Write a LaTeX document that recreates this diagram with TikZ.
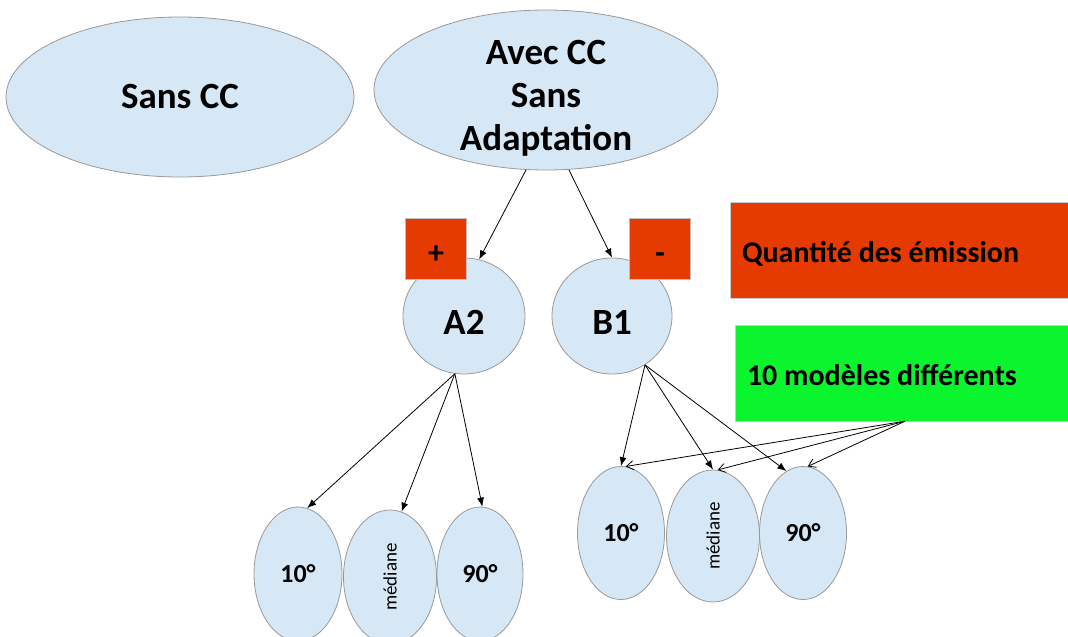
\documentclass[tikz,border=0pt]{standalone}
\usepackage{fontspec}
\setmainfont{Carlito}
\usetikzlibrary{shapes.geometric,arrows.meta}
\definecolor{fondbulle}{HTML}{D6E8F5}
\definecolor{rouge}{HTML}{E53B00}
\definecolor{vert}{HTML}{0AF52E}
\tikzset{
  bulle/.style={ellipse,draw=gray!80,fill=fondbulle,inner sep=0pt,line width=0.8pt},
  carre/.style={draw=gray!50,fill=rouge,minimum size=61pt,inner sep=0pt,text height=29pt,text depth=0pt,font=\bfseries\fontsize{32}{32}\selectfont},
  bandeau/.style={draw=gray!40,minimum height=96pt,inner xsep=12pt,align=flush left,text height=25pt,text depth=0pt,font=\bfseries\fontsize{30}{34}\selectfont},
  fleche/.style={-{Latex[length=9pt,width=7pt]},line width=0.8pt},
  renvoi/.style={-{Straight Barb[length=7pt,width=9pt]},line width=0.8pt}
}
\begin{document}
\begin{tikzpicture}[x=1pt,y=-1pt]
  \useasboundingbox (0,0) rectangle (1068,637);

  \node[bulle,minimum width=348pt,minimum height=160pt,font=\bfseries\fontsize{37}{43}\selectfont] (sans) at (180,97) {Sans CC};
  \node[bulle,minimum width=344pt,minimum height=160pt,text height=0pt,text depth=0pt,font=\bfseries\fontsize{37}{43}\selectfont] (avec) at (546,90)
    {\raisebox{-15pt}{\begin{tabular}{@{}c@{}}Avec CC\\Sans\\Adaptation\end{tabular}}};

  \node[bulle,minimum width=122pt,minimum height=116pt,text height=36pt,text depth=0pt,font=\bfseries\fontsize{37}{43}\selectfont] (a2) at (464,316) {A2};
  \node[bulle,minimum width=120pt,minimum height=116pt,text height=36pt,text depth=0pt,font=\bfseries\fontsize{37}{43}\selectfont] (b1) at (612,316) {B1};
  \node[carre] (plus) at (436,249) {+};
  \node[carre] (moins) at (660,249) {-};

  \node[bandeau,fill=rouge,text width=326pt] (qte) at (905,250) {Quantité des émission};
  \node[bandeau,fill=vert,text width=316pt] (mod) at (905,373) {10 modèles différents};

  % scénario A2
  \node[bulle,minimum width=88pt,minimum height=134pt,font=\bfseries\fontsize{26}{30}\selectfont] (a10) at (298,574) {10°};
  \node[bulle,minimum width=93pt,minimum height=134pt,font=\fontsize{19}{22}\selectfont] (amed) at (390,577) {\rotatebox{90}{médiane}};
  \node[bulle,minimum width=86pt,minimum height=134pt,font=\bfseries\fontsize{26}{30}\selectfont] (a90) at (480,574) {90°};

  % scénario B1
  \node[bulle,minimum width=87pt,minimum height=133pt,font=\bfseries\fontsize{26}{30}\selectfont] (b10) at (621,533) {10°};
  \node[bulle,minimum width=93pt,minimum height=132pt,font=\fontsize{19}{22}\selectfont] (bmed) at (713,536) {\rotatebox{90}{médiane}};
  \node[bulle,minimum width=87pt,minimum height=133pt,font=\bfseries\fontsize{26}{30}\selectfont] (b90) at (803,533) {90°};

  \foreach \from/\to in {avec.256/a2.75, avec.286/b1.90,
    a2.261/a10.82, a2.261/amed.80, a2.261/a90.88,
    b1.304/b10.90, b1.304/bmed.90, b1.304/b90.105}
    \draw[fleche] (\from) -- (\to);
  \foreach \to in {b10.86, bmed.86, b90.86}
    \draw[renvoi] (mod.south) -- (\to);
\end{tikzpicture}
\end{document}
